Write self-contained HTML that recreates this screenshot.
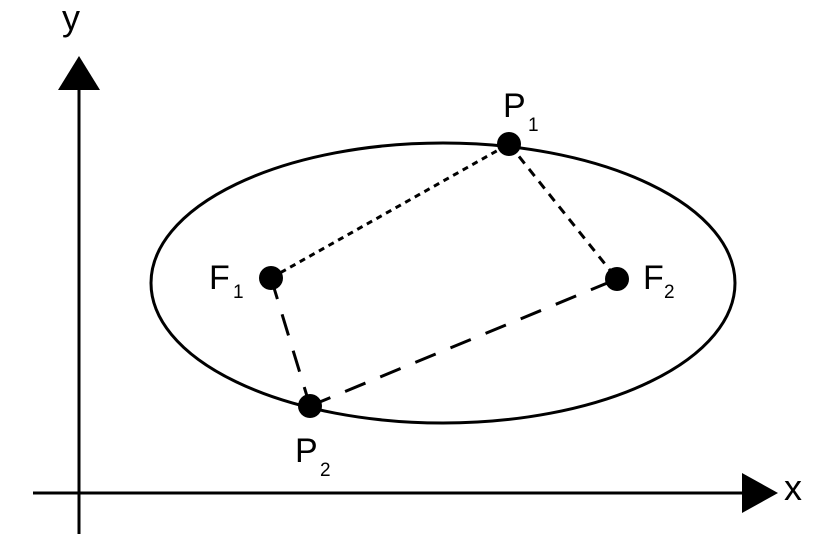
<!DOCTYPE html>
<html><head><style>html,body{margin:0;padding:0;background:#fff}svg{display:block}</style></head>
<body>
<svg width="821" height="547" viewBox="0 0 821 547" xmlns="http://www.w3.org/2000/svg">
<g stroke="#000" stroke-width="3" fill="none">
<line x1="79" y1="88" x2="79" y2="534"/>
<line x1="33" y1="493" x2="746" y2="493"/>
<ellipse cx="443" cy="283" rx="292" ry="140"/>
<line x1="271" y1="278" x2="509" y2="144" stroke-dasharray="6 5"/>
<line x1="509" y1="144" x2="617" y2="279" stroke-dasharray="9 7"/>
<line x1="271" y1="278" x2="310" y2="406" stroke-dasharray="22 16"/>
<line x1="310" y1="406" x2="617" y2="279" stroke-dasharray="22 16"/>
</g>
<polygon points="79,56 58,90 100,90" fill="#000"/>
<polygon points="778,493 742,473 742,513" fill="#000"/>
<g fill="#000">
<circle cx="509" cy="144" r="12"/>
<circle cx="271" cy="278" r="12"/>
<circle cx="617" cy="279" r="12"/>
<circle cx="310" cy="406" r="12"/>
</g>
<g font-family="Liberation Sans, sans-serif" fill="#000">
<text x="62" y="30" font-size="36">y</text>
<text x="784" y="500" font-size="36">x</text>
<text x="503" y="117" font-size="34">P</text><text x="528" y="131" font-size="19">1</text>
<text x="209" y="289" font-size="34">F</text><text x="233" y="298" font-size="19">1</text>
<text x="643" y="289" font-size="34">F</text><text x="664" y="298" font-size="19">2</text>
<text x="295" y="462" font-size="34">P</text><text x="320" y="476" font-size="19">2</text>
</g>
</svg>
</body></html>
